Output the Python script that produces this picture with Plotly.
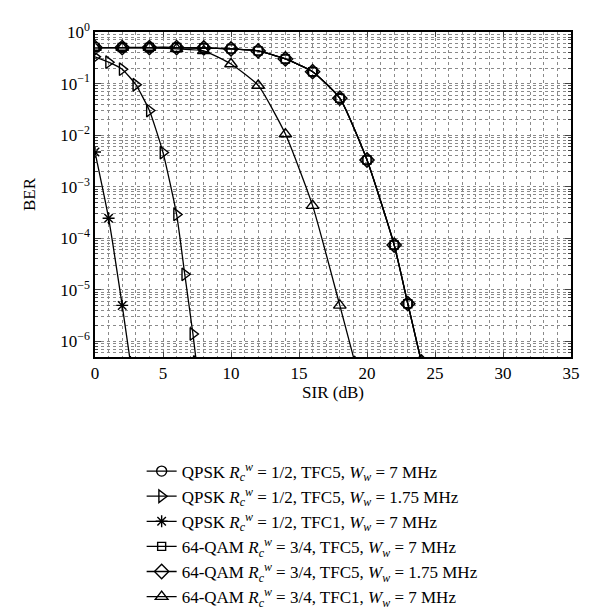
import plotly.graph_objects as go

# ---- data ----
x_qpsk_tfc5_7 = [0, 2, 4, 6, 8, 10, 12, 14, 16, 18, 20, 22, 23, 24]
ber_qpsk_tfc5_7 = [0.5, 0.5, 0.5, 0.5, 0.49, 0.47, 0.43, 0.30, 0.17, 0.052, 0.0033, 7.4e-5, 5.4e-6, 4e-7]

x_qpsk_tfc5_175 = [0, 1, 2, 3, 4, 5, 6, 6.6, 7.2, 7.45]
ber_qpsk_tfc5_175 = [0.33, 0.26, 0.19, 0.095, 0.030, 0.0046, 2.9e-4, 2.0e-5, 1.4e-6, 4e-7]

x_qpsk_tfc1_7 = [0, 1, 2, 2.6]
ber_qpsk_tfc1_7 = [4.7e-3, 2.45e-4, 5.0e-6, 4e-7]

x_qam_tfc5_7 = x_qpsk_tfc5_7
ber_qam_tfc5_7 = ber_qpsk_tfc5_7

x_qam_tfc5_175 = x_qpsk_tfc5_7
ber_qam_tfc5_175 = ber_qpsk_tfc5_7

x_qam_tfc1_7 = [0, 2, 4, 6, 8, 10, 12, 14, 16, 18, 19.1]
ber_qam_tfc1_7 = [0.5, 0.5, 0.5, 0.47, 0.43, 0.24, 0.092, 0.0105, 4.3e-4, 5.0e-6, 4e-7]

Rc = "<i>R</i><sub><i>c</i></sub><sup><i>w</i></sup>"
Ww = "<i>W</i><sub><i>w</i></sub>"
names = [
    f"QPSK {Rc} = 1/2, TFC5, {Ww} = 7 MHz",
    f"QPSK {Rc} = 1/2, TFC5, {Ww} = 1.75 MHz",
    f"QPSK {Rc} = 1/2, TFC1, {Ww} = 7 MHz",
    f"64-QAM {Rc} = 3/4, TFC5, {Ww} = 7 MHz",
    f"64-QAM {Rc} = 3/4, TFC5, {Ww} = 1.75 MHz",
    f"64-QAM {Rc} = 3/4, TFC1, {Ww} = 7 MHz",
]
xs = [x_qpsk_tfc5_7, x_qpsk_tfc5_175, x_qpsk_tfc1_7, x_qam_tfc5_7, x_qam_tfc5_175, x_qam_tfc1_7]
ys = [ber_qpsk_tfc5_7, ber_qpsk_tfc5_175, ber_qpsk_tfc1_7, ber_qam_tfc5_7, ber_qam_tfc5_175, ber_qam_tfc1_7]
symbols = ["circle-open", "triangle-right-open", "asterisk-open", "square-open", "diamond-open", "triangle-up-open"]
sizes = [10, 11, 10, 8, 11, 11]

y_tickvals = [1, 1e-1, 1e-2, 1e-3, 1e-4, 1e-5, 1e-6]
y_ticktext = ["10<sup>0</sup>", "10<sup>−1</sup>", "10<sup>−2</sup>", "10<sup>−3</sup>",
              "10<sup>−4</sup>", "10<sup>−5</sup>", "10<sup>−6</sup>"]
x_tickvals = [0, 5, 10, 15, 20, 25, 30, 35]

y_minor = [m * 10 ** e for e in range(-7, 0) for m in range(2, 10)]

fig = go.Figure()
for x, y, n, s, sz in zip(xs, ys, names, symbols, sizes):
    fig.add_trace(go.Scatter(
        x=x, y=y, name=n, mode="lines+markers",
        line=dict(color="black", width=1.3, shape="spline", smoothing=0.5),
        marker=dict(symbol=s, size=sz, color="black", line=dict(color="black", width=1.4)),
    ))

font_family = "Liberation Serif"
grid_col = "#8a8a8a"
fig.update_layout(
    width=592, height=607,
    paper_bgcolor="white", plot_bgcolor="white",
    margin=dict(l=87, r=29, t=24, b=258, autoexpand=False),
    font=dict(family=font_family, size=17, color="black"),
    showlegend=True,
    legend=dict(x=0.098, y=0.266, xanchor="left", yanchor="top", yref="container",
                font=dict(size=17, family=font_family), bgcolor="rgba(0,0,0,0)",
                itemwidth=30, tracegroupgap=0),
    xaxis=dict(
        range=[0, 35], tickvals=x_tickvals, ticks="inside", ticklen=5,
        showline=True, linecolor="black", linewidth=1.5, mirror="allticks",
        showgrid=True, gridcolor=grid_col, griddash="dot", gridwidth=1,
        zeroline=False,
        title=dict(text="SIR (dB)", font=dict(size=17, family=font_family), standoff=0),
        minor=dict(dtick=1, tick0=0, showgrid=True, gridcolor=grid_col, griddash="dot", ticks=""),
        tickfont=dict(size=17, family=font_family),
    ),
    yaxis=dict(
        type="log", range=[-6.301, 0], tickvals=y_tickvals, ticktext=y_ticktext,
        ticks="inside", ticklen=6,
        showline=True, linecolor="black", linewidth=1.5, mirror="allticks",
        showgrid=True, gridcolor=grid_col, griddash="dot", gridwidth=1,
        zeroline=False,
        title=dict(text="BER", font=dict(size=17, family=font_family), standoff=20),
        minor=dict(tickvals=y_minor, ticks="inside", ticklen=3, showgrid=True,
                   gridcolor=grid_col, griddash="dot"),
        tickfont=dict(size=17, family=font_family),
    ),
)

fig.write_html("out.html")
